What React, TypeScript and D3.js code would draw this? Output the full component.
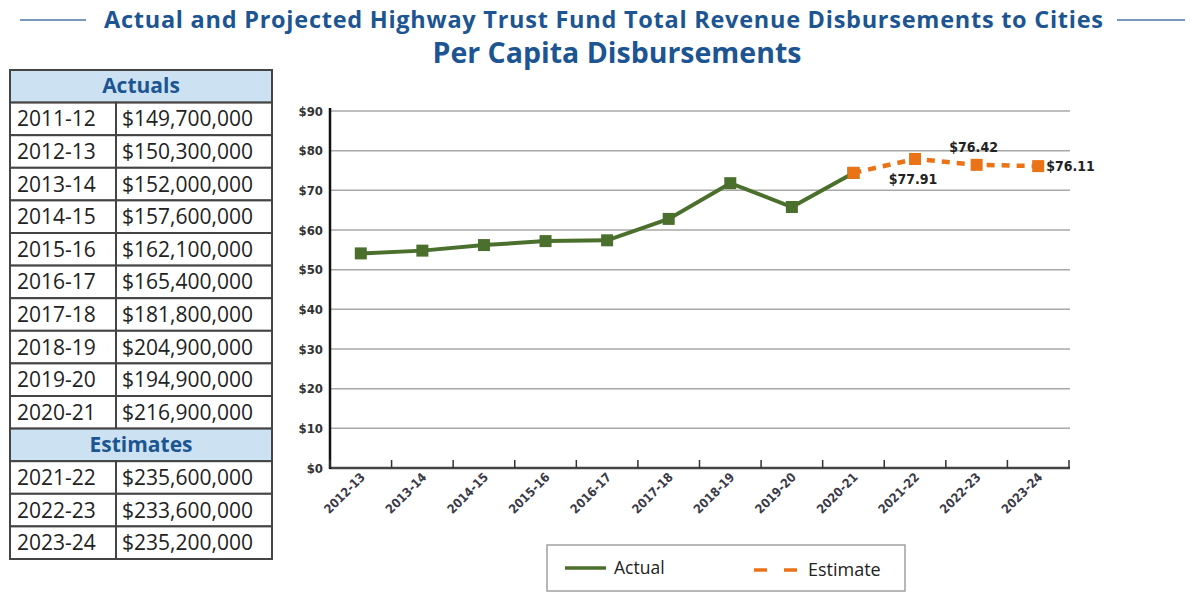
import React from 'react';
import * as d3 from 'd3';

const categories = ['2012-13','2013-14','2014-15','2015-16','2016-17','2017-18','2018-19','2019-20','2020-21','2021-22','2022-23','2023-24'];
const actualCats = ['2012-13','2013-14','2014-15','2015-16','2016-17','2017-18','2018-19','2019-20','2020-21'];
const actualValues = [54.1, 54.8, 56.2, 57.2, 57.4, 62.8, 71.8, 65.8, 74.4];
const estimateCats = ['2020-21','2021-22','2022-23','2023-24'];
const estimateValues = [74.4, 77.91, 76.42, 76.11];
const estimateLabels = ['', '$77.91', '$76.42', '$76.11'];
const yTicks = [0,10,20,30,40,50,60,70,80,90];

const tableActualYears = ['2011-12','2012-13','2013-14','2014-15','2015-16','2016-17','2017-18','2018-19','2019-20','2020-21'];
const tableActualAmounts = ['$149,700,000','$150,300,000','$152,000,000','$157,600,000','$162,100,000','$165,400,000','$181,800,000','$204,900,000','$194,900,000','$216,900,000'];
const tableEstimateYears = ['2021-22','2022-23','2023-24'];
const tableEstimateAmounts = ['$235,600,000','$233,600,000','$235,200,000'];

const BLUE = '#1c5592';
const GREEN = '#4b6f2d';
const ORANGE = '#ea7318';
const NARROW = '"Liberation Sans Narrow", "DejaVu Sans Condensed", "Open Sans", sans-serif';
const TITLE_FONT = '"Open Sans", "Noto Sans", sans-serif';

export default function App() {
  const x = d3.scaleBand<string>().domain(categories).range([330, 1069]);
  const y = d3.scaleLinear().domain([0, 90]).range([468, 111]);
  const cx = (c: string) => (x(c) as number) + x.bandwidth() / 2;

  const line = d3.line<[string, number]>().x(d => cx(d[0])).y(d => y(d[1]));
  const actualData: [string, number][] = actualCats.map((c, i) => [c, actualValues[i]]);
  const estData: [string, number][] = estimateCats.map((c, i) => [c, estimateValues[i]]);

  const tLeft = 10, tRight = 272, tDiv = 116, tTop = 70, rowH = 32.6;
  type Row = { kind: 'header' | 'data'; a: string; b?: string };
  const rows: Row[] = [
    { kind: 'header', a: 'Actuals' },
    ...tableActualYears.map((yy, i) => ({ kind: 'data' as const, a: yy, b: tableActualAmounts[i] })),
    { kind: 'header', a: 'Estimates' },
    ...tableEstimateYears.map((yy, i) => ({ kind: 'data' as const, a: yy, b: tableEstimateAmounts[i] })),
  ];

  const labelPos = [null, { dx: -2, dy: 25, anchor: 'middle' }, { dx: -3, dy: -13, anchor: 'middle' }, { dx: 8, dy: 5, anchor: 'start' }];

  return (
    <svg width={1195} height={593} style={{ position: 'absolute', left: 0, top: 0, background: '#fff' }}>
      <line x1={20} x2={86} y1={20} y2={20} stroke="#7a98bd" strokeWidth={2} />
      <line x1={1117} x2={1185} y1={20} y2={20} stroke="#7a98bd" strokeWidth={2} />
      <text x={104} y={28} textLength={999} lengthAdjust="spacing" fontFamily={TITLE_FONT} fontWeight={700} fontSize={23.5} fill={BLUE}>
        Actual and Projected Highway Trust Fund Total Revenue Disbursements to Cities
      </text>
      <text x={617} y={63} textAnchor="middle" fontFamily={TITLE_FONT} fontWeight={700} fontSize={28.5} fill={BLUE}>
        Per Capita Disbursements
      </text>

      <g>
        {rows.map((r, i) => {
          const top = tTop + i * rowH;
          if (r.kind === 'header') {
            return (
              <g key={i}>
                <rect x={tLeft} y={top} width={tRight - tLeft} height={rowH} fill="#cce2f2" stroke="#444" strokeWidth={2} />
                <text x={(tLeft + tRight) / 2} y={top + rowH / 2 + 7} textAnchor="middle" fontFamily={TITLE_FONT} fontWeight={700} fontSize={21} fill={BLUE}>{r.a}</text>
              </g>
            );
          }
          return (
            <g key={i}>
              <rect x={tLeft} y={top} width={tDiv - tLeft} height={rowH} fill="#fff" stroke="#444" strokeWidth={2} />
              <rect x={tDiv} y={top} width={tRight - tDiv} height={rowH} fill="#fff" stroke="#444" strokeWidth={2} />
              <text x={17} y={top + rowH / 2 + 7.5} fontFamily={TITLE_FONT} fontSize={21} fill="#222">{r.a}</text>
              <text x={122} y={top + rowH / 2 + 7.5} fontFamily={TITLE_FONT} fontSize={21} fill="#222">{r.b}</text>
            </g>
          );
        })}
      </g>

      {yTicks.filter(t => t > 0).map(t => (
        <line key={t} x1={330} x2={1070} y1={y(t)} y2={y(t)} stroke="#a8a8a8" strokeWidth={1.5} />
      ))}
      {yTicks.map(t => (
        <text key={'l' + t} x={323} y={y(t) + 4.5} textAnchor="end" fontFamily={NARROW} fontWeight={700} fontSize={13} fill="#333">{'$' + t}</text>
      ))}

      <line x1={330} x2={1070} y1={468} y2={468} stroke="#444" strokeWidth={2.5} />
      <line x1={330} x2={330} y1={108} y2={469} stroke="#111" strokeWidth={2.5} />
      {categories.map(c => (
        <line key={'t' + c} x1={x(c) as number} x2={x(c) as number} y1={468} y2={460} stroke="#333" strokeWidth={1.5} />
      ))}
      <line x1={1069} x2={1069} y1={468} y2={460} stroke="#333" strokeWidth={1.5} />
      {categories.map(c => (
        <text key={'xl' + c} transform={`translate(${cx(c) + 5},${478}) rotate(-45)`} textAnchor="end" fontFamily={NARROW} fontWeight={700} fontSize={12.5} fill="#3a3a48">{c}</text>
      ))}

      <path d={line(actualData) as string} fill="none" stroke={GREEN} strokeWidth={4} />
      {actualData.map(d => (
        <rect key={'a' + d[0]} x={cx(d[0]) - 6} y={y(d[1]) - 6} width={12} height={12} fill={GREEN} />
      ))}

      <path d={line(estData) as string} fill="none" stroke={ORANGE} strokeWidth={4.5} strokeDasharray="8 7" />
      {estData.map(d => (
        <rect key={'e' + d[0]} x={cx(d[0]) - 6} y={y(d[1]) - 6} width={12} height={12} fill={ORANGE} />
      ))}
      {estData.map((d, i) => {
        const p = labelPos[i];
        if (!p) return null;
        return (
          <text key={'el' + i} x={cx(d[0]) + p.dx} y={y(d[1]) + p.dy} textAnchor={p.anchor as any} fontFamily={NARROW} fontWeight={700} fontSize={14} fill="#222">{estimateLabels[i]}</text>
        );
      })}

      <rect x={547} y={545} width={358} height={46} fill="#fff" stroke="#a0a0a0" strokeWidth={1.5} />
      <line x1={565} x2={606} y1={568} y2={568} stroke={GREEN} strokeWidth={3.5} />
      <text x={614} y={574} fontFamily={TITLE_FONT} fontSize={17.5} fill="#222">Actual</text>
      <line x1={754} x2={797} y1={570} y2={570} stroke={ORANGE} strokeWidth={3.5} strokeDasharray="13 17" />
      <text x={808} y={576} fontFamily={TITLE_FONT} fontSize={18} fill="#222">Estimate</text>
    </svg>
  );
}
